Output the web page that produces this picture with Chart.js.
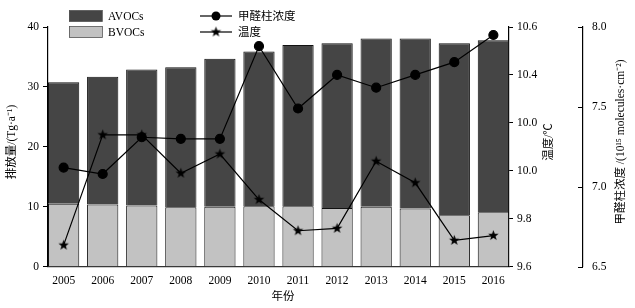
<!DOCTYPE html>
<html>
<head>
<meta charset="utf-8">
<script src="https://cdn.jsdelivr.net/npm/chart.js@4/dist/chart.umd.min.js"></script>
<style>
  body { margin: 0; background: #fff; }
  canvas { display: block; }
</style>
</head>
<body>
<canvas id="chart" width="635" height="308"></canvas>
<script>
const years = ['2005', '2006', '2007', '2008', '2009', '2010', '2011', '2012', '2013', '2014', '2015', '2016'];
const bvocs = [10.5, 10.4, 10.2, 9.9, 10.0, 10.1, 10.1, 9.8, 10.0, 9.7, 8.6, 9.1];
const avocs = [20.3, 21.3, 22.7, 23.4, 24.7, 25.8, 26.9, 27.5, 28.1, 28.4, 28.7, 28.7];
const hcho = [7.12, 7.08, 7.31, 7.30, 7.30, 7.88, 7.49, 7.70, 7.62, 7.70, 7.78, 7.95];
const temp = [9.69, 10.15, 10.15, 9.99, 10.07, 9.88, 9.75, 9.76, 10.04, 9.95, 9.71, 9.73];
// tick labels as printed in the figure (10.2 is printed as 10.0)
const tempTicks = ['9.6', '9.8', '10.0', '10.0', '10.4', '10.6'];

const FONT = '"Liberation Serif", "Times New Roman", "Noto Sans CJK SC", serif';
const DARK = '#454545';
const LIGHT = '#c2c2c2';

// filled five-point star marker
function makeStar(r) {
  const c = document.createElement('canvas');
  c.width = c.height = r * 2 + 2;
  const g = c.getContext('2d');
  g.beginPath();
  for (let i = 0; i < 10; i++) {
    const rad = i % 2 === 0 ? r : r * 0.42;
    const a = -Math.PI / 2 + i * Math.PI / 5;
    const px = r + 1 + rad * Math.cos(a), py = r + 1 + rad * Math.sin(a);
    i === 0 ? g.moveTo(px, py) : g.lineTo(px, py);
  }
  g.closePath();
  g.fillStyle = '#000';
  g.fill();
  return c;
}
const star = makeStar(5.5);

const toXY = arr => arr.map((v, i) => ({ x: i, y: v }));

// legend, rotated axis titles and the inward ticks of the outer axis
const extras = {
  id: 'extras',
  afterDraw(chart) {
    const ctx = chart.ctx;
    ctx.save();
    ctx.fillStyle = '#000';
    ctx.strokeStyle = '#000';
    ctx.font = '11.5px ' + FONT;
    ctx.textBaseline = 'middle';

    // legend boxes
    [[DARK, 'AVOCs', 16], [LIGHT, 'BVOCs', 32]].forEach(([col, txt, y]) => {
      ctx.fillStyle = col;
      ctx.fillRect(69, y - 5.5, 33, 11);
      ctx.lineWidth = 0.8;
      ctx.strokeStyle = '#555';
      ctx.strokeRect(69.5, y - 5.5, 33, 11);
      ctx.fillStyle = '#000';
      ctx.textAlign = 'left';
      ctx.fillText(txt, 108, y + 0.5);
    });
    // legend lines
    ctx.strokeStyle = '#000';
    ctx.lineWidth = 1.2;
    [['甲醛柱浓度', 16, 'circle'], ['温度', 32, 'star']].forEach(([txt, y, m]) => {
      ctx.beginPath();
      ctx.moveTo(200, y);
      ctx.lineTo(232, y);
      ctx.stroke();
      if (m === 'circle') {
        ctx.beginPath();
        ctx.arc(216, y, 4.5, 0, Math.PI * 2);
        ctx.fill();
      } else {
        ctx.drawImage(star, 216 - star.width / 2, y - star.height / 2);
      }
      ctx.fillText(txt, 238, y + 0.5);
    });

    // rotated axis titles, reading bottom to top
    const midY = 142;
    const vTitle = (x, txt) => {
      ctx.save();
      ctx.translate(x, midY);
      ctx.rotate(-Math.PI / 2);
      ctx.textAlign = 'center';
      ctx.fillText(txt, 0, 0);
      ctx.restore();
    };
    vTitle(12, '排放量/(Tg·a⁻¹)');
    vTitle(549, '温度/℃');
    vTitle(621, '甲醛柱浓度 /(10¹⁵ molecules·cm⁻²)');

    ctx.textAlign = 'center';
    ctx.fillText('年份', 283, 297);

    // inward ticks on the outer right axis
    const y2 = chart.scales.y2;
    ctx.lineWidth = 1;
    y2.ticks.forEach(t => {
      const py = Math.round(y2.getPixelForValue(t.value)) + 0.5;
      ctx.beginPath();
      ctx.moveTo(y2.left - 5, py);
      ctx.lineTo(y2.left, py);
      ctx.stroke();
    });
    ctx.restore();
  }
};

const tickFont = { family: FONT, size: 11.5 };

new Chart(document.getElementById('chart'), {
  type: 'bar',
  data: {
    datasets: [
      {
        type: 'line', label: '甲醛柱浓度', data: toXY(hcho), yAxisID: 'y2', order: 0,
        borderColor: '#000', borderWidth: 1.2, backgroundColor: '#000',
        pointStyle: 'circle', pointRadius: 4.5, pointBackgroundColor: '#000', fill: false, tension: 0
      },
      {
        type: 'line', label: '温度', data: toXY(temp), yAxisID: 'y1', order: 0,
        borderColor: '#000', borderWidth: 1.2,
        pointStyle: star, pointRadius: 5, fill: false, tension: 0
      },
      {
        label: 'BVOCs', data: toXY(bvocs), yAxisID: 'y', order: 1, stack: 's',
        backgroundColor: LIGHT, borderColor: '#111', borderWidth: 1,
        barPercentage: 0.8, categoryPercentage: 1
      },
      {
        label: 'AVOCs', data: toXY(avocs), yAxisID: 'y', order: 1, stack: 's',
        backgroundColor: DARK, borderColor: '#111', borderWidth: 1,
        barPercentage: 0.8, categoryPercentage: 1
      }
    ]
  },
  options: {
    responsive: false,
    animation: false,
    layout: { padding: { top: 27, left: 0, right: 0, bottom: 0 } },
    plugins: { legend: { display: false }, tooltip: { enabled: false } },
    scales: {
      x: {
        type: 'linear', min: -0.4, max: 11.4, stacked: true, offset: false,
        grid: { display: false, drawTicks: false, offset: false },
        border: { display: true, color: '#333', width: 1.2 },
        ticks: {
          stepSize: 1, includeBounds: false, autoSkip: false, maxRotation: 0,
          padding: 7, color: '#000', font: tickFont,
          callback: v => Number.isInteger(v) ? years[v] : ''
        },
        afterFit: s => { s.height = 41.3; }
      },
      y: {
        position: 'left', min: 0, max: 40, stacked: true,
        grid: { drawOnChartArea: false, tickLength: 5, color: '#000' },
        border: { display: true, color: '#000', width: 1.2 },
        ticks: { stepSize: 10, padding: 4, color: '#000', font: tickFont },
        afterFit: s => { s.width = 48; }
      },
      y1: {
        position: 'right', weight: 0, min: 9.6, max: 10.6,
        grid: { drawOnChartArea: false, tickLength: 4, color: '#000' },
        border: { display: true, color: '#000', width: 1.2 },
        ticks: {
          stepSize: 0.2, padding: 4, color: '#000', font: tickFont,
          callback: (v, i) => tempTicks[i]
        },
        afterFit: s => { s.width = 74; }
      },
      y2: {
        position: 'right', weight: 1, min: 6.5, max: 8.0,
        grid: { display: false, drawTicks: false },
        border: { display: true, color: '#000', width: 1.2 },
        ticks: {
          stepSize: 0.5, padding: 9, color: '#000', font: tickFont,
          callback: v => v.toFixed(1)
        },
        afterFit: s => { s.width = 52; }
      }
    }
  },
  plugins: [extras]
});
</script>
</body>
</html>
